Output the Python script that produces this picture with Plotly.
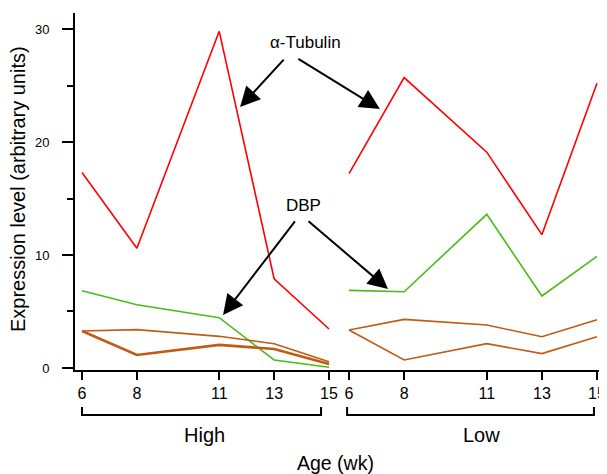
import plotly.graph_objects as go

ages = [6, 8, 11, 13, 15]
tick_labels = ["6", "8", "11", "13", "15"]

# High group
tubulin_high = [17.3, 10.6, 29.8, 7.9, 3.45]
dbp_high = [6.84, 5.6, 4.45, 0.71, 0.06]
ctrl_a_high = [3.27, 3.39, 2.8, 2.15, 0.56]
ctrl_b_high = [3.27, 1.15, 2.04, 1.68, 0.35]

# Low group
tubulin_low = [17.2, 25.7, 19.1, 11.8, 25.2]
dbp_low = [6.87, 6.75, 13.6, 6.37, 9.88]
ctrl_a_low = [3.36, 4.3, 3.8, 2.77, 4.27]
ctrl_b_low = [3.36, 0.71, 2.15, 1.27, 2.77]

RED = "#ff0000"
GREEN = "#4cbb17"
BROWN = "#c05a14"
FONT = "Liberation Sans, Arial, sans-serif"

fig = go.Figure()

def add(xs, ys, color, axis, width=1.6):
    fig.add_trace(go.Scatter(x=xs, y=ys, mode="lines", xaxis=axis, yaxis="y",
                             line=dict(color=color, width=width), showlegend=False,
                             hoverinfo="skip"))

add(ages, tubulin_high, RED, "x")
add(ages, dbp_high, GREEN, "x")
add(ages, ctrl_a_high, BROWN, "x")
add(ages, ctrl_b_high, BROWN, "x", 2.6)
add(ages, tubulin_low, RED, "x2")
add(ages, dbp_low, GREEN, "x2")
add(ages, ctrl_a_low, BROWN, "x2")
add(ages, ctrl_b_low, BROWN, "x2")

xcommon = dict(tickmode="array", tickvals=ages, ticktext=tick_labels,
               ticks="outside", ticklen=8, tickwidth=2, tickcolor="black",
               showline=True, linecolor="black", linewidth=2,
               showgrid=False, zeroline=False,
               tickfont=dict(family=FONT, size=16, color="black"))

# page body has an 8px margin, so the figure is shifted by 8px
split = (339 - 75) / 532
fig.update_layout(
    width=599, height=466,
    margin=dict(l=67, r=0, t=5, b=104),
    paper_bgcolor="white", plot_bgcolor="white",
    font=dict(family=FONT, color="black"),
    xaxis=dict(domain=[0, split], range=[5.745, 15.364], anchor="y", **xcommon),
    xaxis2=dict(domain=[split, 1], range=[5.636, 15.364], anchor="y", **xcommon),
    yaxis=dict(range=[-0.18, 31.42], tickvals=[0, 10, 20, 30],
               ticks="outside", ticklen=11, tickwidth=2, tickcolor="black",
               minor=dict(dtick=5, ticks="outside", ticklen=6, tickwidth=2, tickcolor="black"),
               showline=True, linecolor="black", linewidth=2,
               showgrid=False, zeroline=False, ticklabelstandoff=10,
               tickfont=dict(family=FONT, size=13, color="black")),
)

def paper_x(px):
    return (px - 75) / 532

def paper_y(py):
    return (370 - py) / 357

annots = [
    dict(text="Expression level (arbitrary units)", x=paper_x(18), y=paper_y(189), textangle=-90, size=20),
    dict(text="Age (wk)", x=paper_x(335), y=paper_y(463), size=19.5),
    dict(text="High", x=paper_x(204), y=paper_y(435), size=20),
    dict(text="Low", x=paper_x(481), y=paper_y(435), size=20),
    dict(text="α-Tubulin", x=paper_x(305), y=paper_y(42), size=17),
    dict(text="DBP", x=paper_x(303), y=paper_y(205), size=17),
]
for a in annots:
    fig.add_annotation(text=a["text"], x=a["x"], y=a["y"], xref="paper", yref="paper",
                       showarrow=False, textangle=a.get("textangle", 0),
                       xanchor="center", yanchor="middle",
                       font=dict(family=FONT, size=a["size"], color="black"))

# arrows (tip in data coordinates, tail as pixel offset)
arrows = [
    ("x", 11.76, 23.09, 45, -49),
    ("x2", 7.12, 22.92, -83, -51),
    ("x", 11.14, 4.69, 73, -95),
    ("x2", 7.415, 6.99, -81, -69),
]
for xr, x, y, ax, ay in arrows:
    fig.add_annotation(x=x, y=y, xref=xr, yref="y", ax=ax, ay=ay, axref="pixel", ayref="pixel",
                       text="", showarrow=True, arrowhead=2, arrowsize=2, arrowwidth=2,
                       arrowcolor="black", standoff=0)

# brackets under each group
yb_top = paper_y(407)
yb_bot = paper_y(415)
for xr, x0, x1 in [("x", 6.0, 14.71), ("x2", 5.93, 14.89)]:
    path = f"M {x0},{yb_top} L {x0},{yb_bot} L {x1},{yb_bot} L {x1},{yb_top}"
    fig.add_shape(type="path", path=path, xref=xr, yref="paper",
                  line=dict(color="black", width=2))

fig.write_html("out.html")
